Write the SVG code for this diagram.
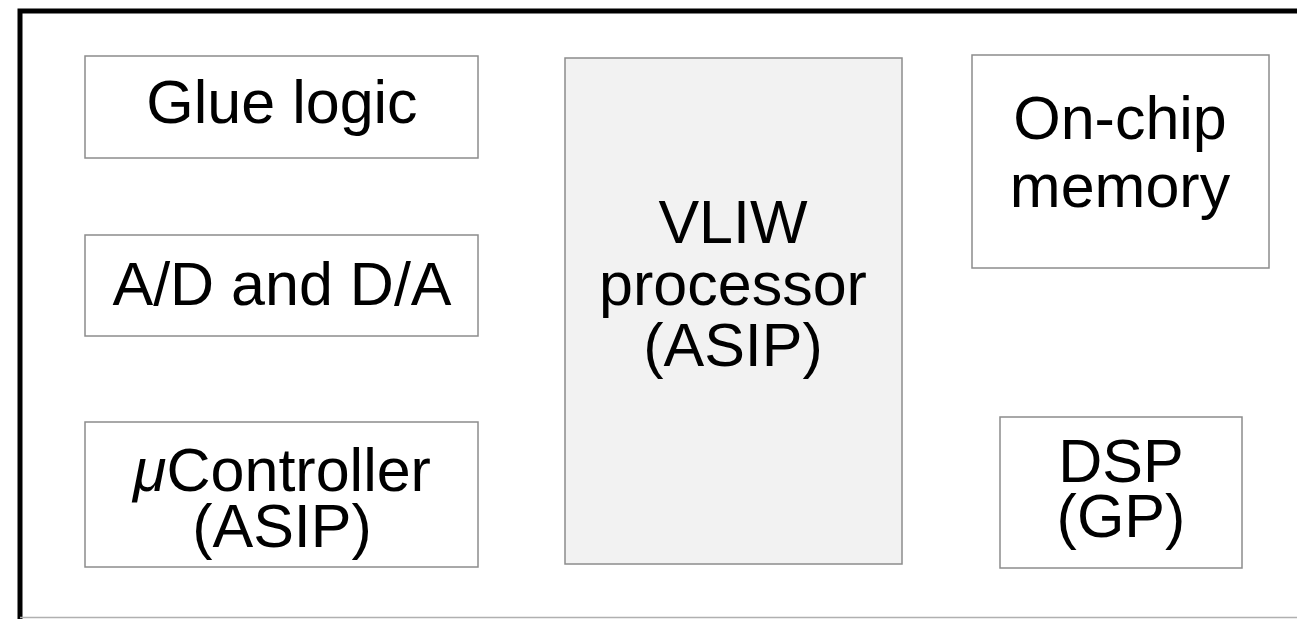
<svg xmlns="http://www.w3.org/2000/svg" width="1297" height="619" viewBox="0 0 1297 619">
  <style>
    .box { fill: #ffffff; stroke: #8c8c8c; stroke-width: 1.5; }
    .core { fill: #f2f2f2; stroke: #8c8c8c; stroke-width: 1.5; }
    .lbl { font-family: "Liberation Sans", Arial, Helvetica, sans-serif; font-size: 61px; fill: #000; text-anchor: middle; }
  </style>
  <rect width="1297" height="619" fill="#ffffff"/>
  <!-- chip outline -->
  <g id="chip">
    <path d="M20,619 V11 H1297" fill="none" stroke="#000" stroke-width="5"/>
    <line x1="20" y1="617.5" x2="1297" y2="617.5" stroke="#b0b0b0" stroke-width="1.5"/>
  </g>
  <g id="connectors"></g>
  <g id="glue">
    <rect class="box" x="85" y="56" width="393" height="102"/>
    <text class="lbl" x="282" y="123">Glue logic</text>
  </g>
  <g id="adda">
    <rect class="box" x="85" y="235" width="393" height="101"/>
    <text class="lbl" x="282" y="305">A/D and D/A</text>
  </g>
  <g id="ucontroller">
    <rect class="box" x="85" y="422" width="393" height="145"/>
    <text class="lbl" x="282" y="491"><tspan font-style="italic">μ</tspan>Controller</text>
    <text class="lbl" x="282" y="547">(ASIP)</text>
  </g>
  <g id="vliw">
    <rect class="core" x="565" y="58" width="337" height="506"/>
    <text class="lbl" x="733" y="243">VLIW</text>
    <text class="lbl" x="733" y="305">processor</text>
    <text class="lbl" x="733" y="366">(ASIP)</text>
  </g>
  <g id="memory">
    <rect class="box" x="972" y="55" width="297" height="213"/>
    <text class="lbl" x="1120" y="139">On-chip</text>
    <text class="lbl" x="1120" y="207">memory</text>
  </g>
  <g id="dsp">
    <rect class="box" x="1000" y="417" width="242" height="151"/>
    <text class="lbl" x="1121" y="482">DSP</text>
    <text class="lbl" x="1121" y="537">(GP)</text>
  </g>
</svg>
